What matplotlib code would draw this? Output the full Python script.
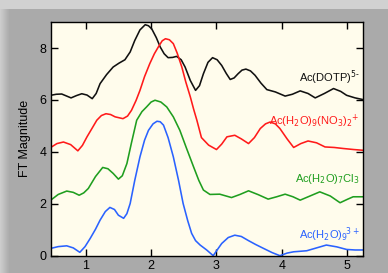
import numpy as np
import matplotlib
matplotlib.use('Agg')
import matplotlib.pyplot as plt

plt.rcParams['font.family'] = ['Liberation Sans', 'DejaVu Sans']

# R (Angstrom) and FT magnitude (curves are offset)
x_dotp = [0.465, 0.55, 0.633, 0.70, 0.776, 0.86, 0.94, 1.02, 1.10, 1.16, 1.22, 1.32, 1.42, 1.51, 1.60, 1.68,
          1.75, 1.83, 1.91, 1.96, 2.01, 2.08, 2.14, 2.20, 2.26, 2.33, 2.39, 2.46, 2.52, 2.60, 2.68, 2.74,
          2.80, 2.87, 2.94, 3.01, 3.08, 3.15, 3.21, 3.27, 3.33, 3.39, 3.45, 3.52, 3.59, 3.68, 3.77, 3.90,
          4.05, 4.16, 4.28, 4.40, 4.51, 4.65, 4.79, 4.90, 4.99, 5.12, 5.25]
y_dotp = [6.18, 6.22, 6.23, 6.16, 6.08, 6.17, 6.24, 6.19, 6.05, 6.25, 6.63, 6.98, 7.27, 7.42, 7.55, 7.85,
          8.29, 8.70, 8.90, 8.86, 8.74, 8.40, 8.04, 7.78, 7.63, 7.64, 7.68, 7.55, 7.27, 6.75, 6.37, 6.55,
          7.01, 7.45, 7.63, 7.55, 7.33, 7.02, 6.79, 6.85, 7.01, 7.15, 7.19, 7.12, 6.95, 6.65, 6.40, 6.31,
          6.15, 6.22, 6.35, 6.25, 6.08, 6.25, 6.44, 6.33, 6.18, 6.08, 6.01]

x_no3 = [0.465, 0.56, 0.66, 0.77, 0.88, 0.95, 1.02, 1.10, 1.17, 1.24, 1.31, 1.38, 1.45, 1.57, 1.64, 1.70,
         1.77, 1.83, 1.90, 1.98, 2.05, 2.11, 2.17, 2.22, 2.28, 2.34, 2.40, 2.47, 2.53, 2.60, 2.65, 2.70,
         2.77, 2.88, 3.00, 3.08, 3.16, 3.28, 3.38, 3.49, 3.58, 3.67, 3.75, 3.82, 3.90, 3.97, 4.08, 4.18,
         4.29, 4.40, 4.53, 4.66, 4.80, 4.94, 5.10, 5.25]
y_no3 = [4.17, 4.32, 4.38, 4.28, 4.04, 4.25, 4.58, 4.92, 5.22, 5.40, 5.47, 5.44, 5.35, 5.28, 5.38, 5.60,
         5.98, 6.37, 6.90, 7.40, 7.78, 8.04, 8.28, 8.36, 8.32, 8.17, 7.80, 7.27, 6.70, 6.12, 5.65, 5.22,
         4.55, 4.26, 4.09, 4.30, 4.58, 4.64, 4.50, 4.32, 4.55, 4.90, 5.08, 5.15, 5.08, 4.90, 4.50, 4.17,
         4.32, 4.42, 4.35, 4.19, 4.17, 4.13, 4.09, 4.06]

x_cl = [0.465, 0.58, 0.71, 0.81, 0.90, 0.97, 1.04, 1.15, 1.26, 1.34, 1.42, 1.50, 1.56, 1.63, 1.70, 1.78,
        1.86, 1.93, 2.00, 2.06, 2.15, 2.24, 2.34, 2.44, 2.54, 2.65, 2.73, 2.80, 2.90, 3.05, 3.23, 3.36,
        3.49, 3.64, 3.79, 3.92, 4.05, 4.17, 4.28, 4.43, 4.58, 4.74, 4.89, 5.00, 5.09, 5.25]
y_cl = [2.14, 2.36, 2.49, 2.44, 2.33, 2.42, 2.59, 3.05, 3.40, 3.35, 3.17, 2.95, 3.08, 3.55, 4.35, 5.22,
        5.55, 5.73, 5.92, 5.99, 5.92, 5.73, 5.35, 4.83, 4.15, 3.42, 2.90, 2.53, 2.36, 2.37, 2.24, 2.36,
        2.50, 2.35, 2.18, 2.27, 2.37, 2.27, 2.14, 2.30, 2.46, 2.30, 2.04, 2.17, 2.27, 2.27]

x_aq = [0.465, 0.58, 0.71, 0.81, 0.91, 0.99, 1.07, 1.15, 1.22, 1.30, 1.37, 1.44, 1.50, 1.58, 1.63, 1.68,
        1.75, 1.83, 1.90, 1.96, 2.03, 2.09, 2.14, 2.19, 2.26, 2.34, 2.42, 2.49, 2.56, 2.62, 2.68, 2.75,
        2.85, 2.95, 3.01, 3.08, 3.18, 3.28, 3.38, 3.49, 3.60, 3.72, 3.85, 3.97, 4.08, 4.18, 4.38, 4.53,
        4.68, 4.84, 4.99, 5.12, 5.25]
y_aq = [0.28, 0.35, 0.38, 0.30, 0.13, 0.35, 0.67, 1.02, 1.37, 1.70, 1.86, 1.78, 1.56, 1.44, 1.62, 2.01,
        2.90, 3.81, 4.45, 4.83, 5.08, 5.18, 5.16, 5.03, 4.55, 3.81, 2.90, 2.01, 1.35, 0.86, 0.58, 0.41,
        0.22, 0.00, 0.22, 0.47, 0.70, 0.79, 0.74, 0.58, 0.43, 0.28, 0.12, 0.00, 0.10, 0.15, 0.19, 0.30,
        0.41, 0.34, 0.24, 0.22, 0.22]

labels = [r'Ac(DOTP)$^{5\text{-}}$', r'Ac(H$_2$O)$_9$(NO$_3$)$_2$$^{\!+}$',
          r'Ac(H$_2$O)$_7$Cl$_3$', r'Ac(H$_2$O)$_9$$^{\!3+}$']
label_y = [6.85, 5.18, 2.95, 0.80]
colors = ['#111111', '#ff1a1a', '#1f9e1f', '#2a62ff']

fig = plt.figure(figsize=(3.88, 2.73), dpi=100)

# grey backdrop with a lighter band on top and on the left
bg = np.full((273, 388), 0.665)
bg[:, :9] = np.linspace(0.80, 0.68, 9)
bg[:9, :] = 0.82
bax = fig.add_axes([0, 0, 1, 1], zorder=-10)
bax.imshow(bg, cmap='gray', vmin=0, vmax=1, aspect='auto', interpolation='nearest')
bax.axis('off')

ax = fig.add_axes([0.1307, 0.0634, 0.8056, 0.8556])
ax.set_facecolor('#fffcec')

for xs, ys, c in zip([x_dotp, x_no3, x_cl, x_aq], [y_dotp, y_no3, y_cl, y_aq], colors):
    ax.plot(xs, ys, color=c, lw=1.15, solid_joinstyle='round')

for lab, ly, c in zip(labels, label_y, colors):
    ax.text(5.19, ly, lab, color=c, fontsize=8, ha='right', va='center')

ax.set_xlim(0.465, 5.245)
ax.set_ylim(0, 9)
ax.set_xticks([1, 2, 3, 4, 5])
ax.set_yticks([0, 2, 4, 6, 8])
ax.tick_params(direction='in', length=5, width=1, top=True, right=True, labelsize=9, pad=3)
ax.set_ylabel('FT Magnitude', fontsize=9, labelpad=6)
for s in ax.spines.values():
    s.set_linewidth(1)

fig.savefig('out.png', dpi=100)
